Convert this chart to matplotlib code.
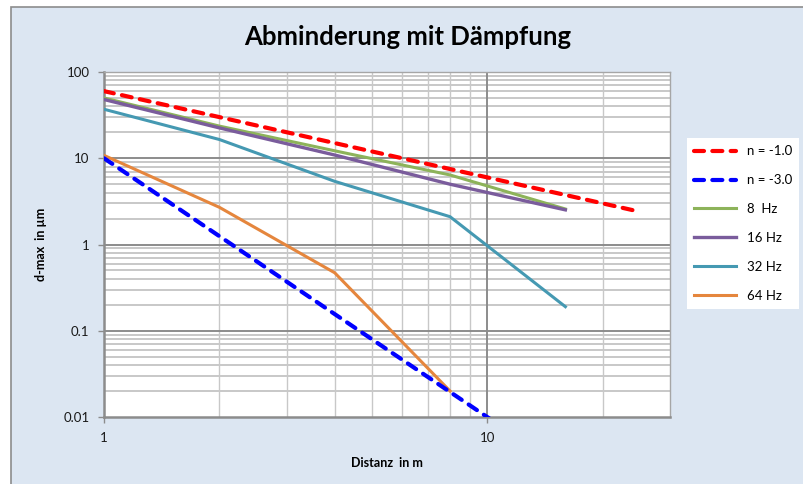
import matplotlib
matplotlib.use("Agg")
import matplotlib.pyplot as plt
from matplotlib.ticker import FixedLocator, NullFormatter

# --- data (log-log) ---
dist = [1, 2, 4, 8, 16]
dist_ref1 = [1, 2, 4, 8, 16, 25]
dist_ref3 = [1, 2, 4, 8, 10, 16]

n_minus1 = [60, 30, 15, 7.5, 3.75, 2.4]
n_minus3 = [10, 1.25, 0.156, 0.0195, 0.01, 0.0024]
hz8 = [50, 23.6, 12.2, 6.4, 2.58]
hz16 = [48, 22.5, 10.9, 5.0, 2.52]
hz32 = [37, 16.5, 5.4, 2.1, 0.19]
hz64 = [10.8, 2.7, 0.47, 0.020]

labels = ["n = -1.0", "n = -3.0", "8  Hz", "16 Hz", "32 Hz", "64 Hz"]

bg = "#DCE6F2"
font = "Lato"

fig = plt.figure(figsize=(8.04, 4.84), dpi=100)
fig.patch.set_facecolor("white")
# chart area background with grey border (cropped at right/bottom)
fig.patches.append(plt.Rectangle((11 / 804, -0.1), 1.1, (484 - 7) / 484 + 0.1,
                                 transform=fig.transFigure, facecolor=bg,
                                 edgecolor="#8C8C8C", linewidth=1.2, zorder=-10))

ax = fig.add_axes([104 / 804, 1 - 417 / 484, (670 - 104) / 804, (417 - 72) / 484])
ax.set_facecolor("white")
ax.set_xscale("log")
ax.set_yscale("log")
ax.set_xlim(1, 30)
ax.set_ylim(0.01, 100)

# grid
xminor = [2, 3, 4, 5, 6, 7, 8, 9, 20]
yminor = [m * 10.0 ** e for e in range(-2, 2) for m in range(2, 10)]
for xv in xminor:
    ax.axvline(xv, color="#C8C8C8", lw=1.0, zorder=1)
for yv in yminor:
    ax.axhline(yv, color="#C8C8C8", lw=1.4, zorder=1)
ax.axvline(10, color="#8C8C8C", lw=1.4, zorder=1)
for yv in [0.1, 1, 10]:
    ax.axhline(yv, color="#8C8C8C", lw=1.4, zorder=1)

ax.xaxis.set_major_locator(FixedLocator([1, 10]))
ax.yaxis.set_major_locator(FixedLocator([0.01, 0.1, 1, 10, 100]))
ax.xaxis.set_minor_locator(FixedLocator([]))
ax.yaxis.set_minor_locator(FixedLocator([]))
ax.xaxis.set_minor_formatter(NullFormatter())
ax.set_xticklabels(["1", "10"])
ax.set_yticklabels(["0.01", "0.1", "1", "10", "100"])
ax.tick_params(axis="both", length=4, width=1, color="#8C8C8C",
               labelsize=9.5, labelcolor="#1A1A1A")
ax.tick_params(axis="x", pad=7)
ax.tick_params(axis="y", pad=6.5)
for lab in ax.get_xticklabels() + ax.get_yticklabels():
    lab.set_fontfamily(font)

for side in ["left", "bottom"]:
    ax.spines[side].set_color("#8C8C8C")
    ax.spines[side].set_linewidth(1.8)
for side in ["top", "right"]:
    ax.spines[side].set_color("#A6A6A6")
    ax.spines[side].set_linewidth(1.0)

dash = (0, (2.4, 2.0))
ax.plot(dist_ref1, n_minus1, color="#FF0000", lw=3.0, ls=dash,
        dash_capstyle="round", label=labels[0], zorder=5)
ax.plot(dist_ref3, n_minus3, color="#0000FF", lw=3.0, ls=dash,
        dash_capstyle="round", label=labels[1], zorder=5)
ax.plot(dist, hz8, color="#8DB35A", lw=2.2, label=labels[2], zorder=4)
ax.plot(dist, hz16, color="#7A5C9C", lw=2.4, label=labels[3], zorder=4)
ax.plot(dist, hz32, color="#4599B2", lw=2.2, label=labels[4], zorder=4)
ax.plot(dist[:4], hz64, color="#E5863D", lw=2.2, label=labels[5], zorder=4)

ax.set_xlabel("Distanz  in m", fontsize=9, fontweight="bold", family=font,
              labelpad=9)
ax.set_ylabel("d-max  in µm", fontsize=9, fontweight="bold", family=font,
              labelpad=12)
fig.text(0.5075, 1 - 37 / 484, "Abminderung mit Dämpfung", ha="center",
         va="center", fontsize=18.5, fontweight="bold", family=font)

leg = ax.legend(loc="upper left", bbox_to_anchor=(687 / 804, 1 - 138 / 484),
                bbox_transform=fig.transFigure, frameon=True, fancybox=False,
                edgecolor="white", facecolor="white", framealpha=1,
                prop={"family": font, "size": 9.5}, handlelength=3.2,
                labelspacing=1.28, borderpad=0.55, handletextpad=0.76,
                borderaxespad=0)
leg.get_frame().set_linewidth(0)

fig.savefig("out.png", dpi=100, facecolor=fig.get_facecolor())
